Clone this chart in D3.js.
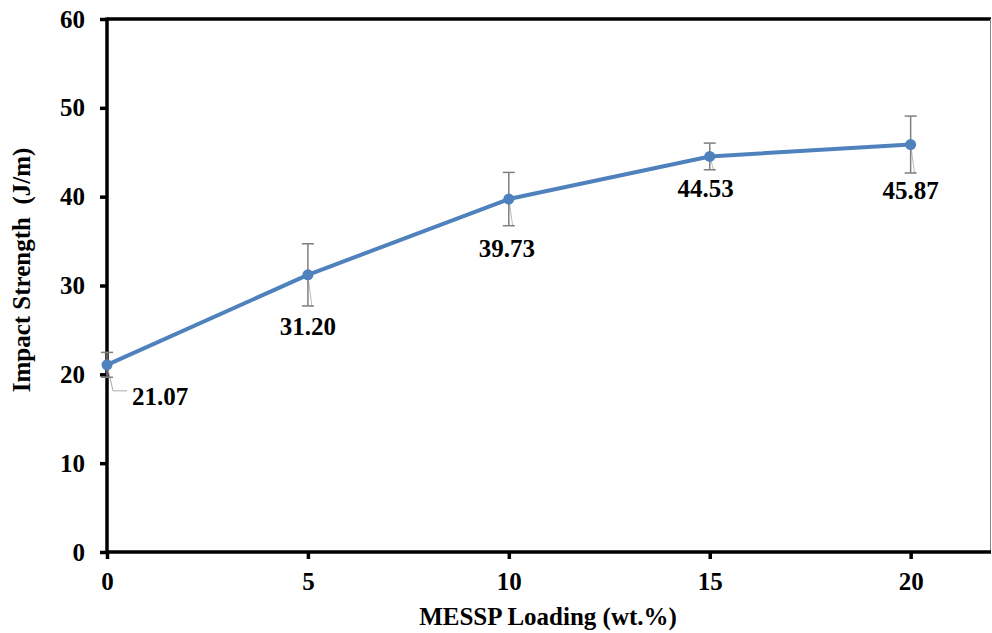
<!DOCTYPE html>
<html><head><meta charset="utf-8">
<script src="https://cdn.jsdelivr.net/npm/d3@7"></script>
<style>body{margin:0;background:#fff;}</style>
</head><body>
<svg id="c" width="992" height="633"></svg>
<script>
const loading = [0, 5, 10, 15, 20];
const strength = [21.07, 31.20, 39.73, 44.53, 45.87];
const errors = [1.4, 3.5, 3.0, 1.5, 3.2];
const valueLabels = ["21.07", "31.20", "39.73", "44.53", "45.87"];
const xTicks = [0, 5, 10, 15, 20];
const yTicks = [0, 10, 20, 30, 40, 50, 60];

const FONT = '"Liberation Serif", "Times New Roman", serif';
const svg = d3.select("#c");
const pL = 107, pR = 991, pT = 19, pB = 552;
const x = d3.scaleLinear().domain([0, 22]).range([pL, pR]);
const y = d3.scaleLinear().domain([0, 60]).range([pB, pT]);

function styleText(sel, size) {
  return sel.style("font-family", FONT).style("font-weight", "bold").style("font-size", size + "px").style("fill", "#000");
}

// frame: top thick, right thin
svg.append("line").attr("x1", pL).attr("x2", pR).attr("y1", pT).attr("y2", pT)
  .attr("stroke", "#000").attr("stroke-width", 3.5);
svg.append("line").attr("x1", pR - 0.5).attr("x2", pR - 0.5).attr("y1", pT).attr("y2", pB)
  .attr("stroke", "#888").attr("stroke-width", 1);

// axes
const xAxis = svg.append("g").attr("transform", `translate(0,${pB})`)
  .call(d3.axisBottom(x).tickValues(xTicks).tickSize(7).tickSizeOuter(0).tickPadding(13));
const yAxis = svg.append("g").attr("transform", `translate(${pL},0)`)
  .call(d3.axisLeft(y).tickValues(yTicks).tickSize(7).tickSizeOuter(0).tickPadding(15));
[xAxis, yAxis].forEach(g => {
  g.select(".domain").attr("stroke", "#000").attr("stroke-width", 3.5);
  g.selectAll(".tick line").attr("stroke", "#000").attr("stroke-width", 3.5);
  styleText(g.selectAll(".tick text"), 25);
});
xAxis.select(".domain").attr("d", `M${pL},0H${pR}`);
yAxis.select(".domain").attr("d", `M0,${pB + 1.5}V${pT - 1.5}`);

// leader lines
svg.append("path")
  .attr("d", `M${x(loading[0])},${y(strength[0])}L${x(loading[0]) + 6},${y(strength[0]) + 26}H${x(loading[0]) + 20}`)
  .attr("fill", "none").attr("stroke", "#aaa").attr("stroke-width", 1);
[1, 2, 3, 4].forEach(i => {
  svg.append("path")
    .attr("d", `M${x(loading[i])},${y(strength[i])}L${x(loading[i]) + 4},${y(strength[i] - errors[i]) + 1}`)
    .attr("fill", "none").attr("stroke", "#bbb").attr("stroke-width", 1);
});

// error bars
const eb = svg.append("g").attr("stroke", "#7f7f7f").attr("stroke-width", 1.5);
loading.forEach((v, i) => {
  const cx = x(v), y1 = y(strength[i] + errors[i]), y2 = y(strength[i] - errors[i]);
  eb.append("line").attr("x1", cx).attr("x2", cx).attr("y1", y1).attr("y2", y2);
  eb.append("line").attr("x1", cx - 6).attr("x2", cx + 6).attr("y1", y1).attr("y2", y1);
  eb.append("line").attr("x1", cx - 6).attr("x2", cx + 6).attr("y1", y2).attr("y2", y2);
});

// line
const color = "#4f81bd";
svg.append("path").datum(loading.map((v, i) => [v, strength[i]]))
  .attr("d", d3.line().x(d => x(d[0])).y(d => y(d[1])))
  .attr("fill", "none").attr("stroke", color).attr("stroke-width", 4).attr("stroke-linejoin", "round");
svg.selectAll("circle.m").data(loading).enter().append("circle")
  .attr("cx", d => x(d)).attr("cy", (d, i) => y(strength[i])).attr("r", 5.5).attr("fill", color);

// value labels
const lblOff = [[53, 40], [0, 60], [-2, 58], [-4, 41], [0, 54]];
loading.forEach((v, i) => {
  styleText(svg.append("text"), 25).attr("x", x(v) + lblOff[i][0]).attr("y", y(strength[i]) + lblOff[i][1])
    .attr("text-anchor", "middle").text(valueLabels[i]);
});

// titles
styleText(svg.append("text"), 25).attr("x", 548).attr("y", 625).attr("text-anchor", "middle")
  .text("MESSP Loading (wt.%)");
styleText(svg.append("text"), 25).attr("transform", "translate(30,270) rotate(-90)").attr("text-anchor", "middle")
  .style("white-space", "pre").text("Impact Strength  (J/m)");
</script>
</body></html>
